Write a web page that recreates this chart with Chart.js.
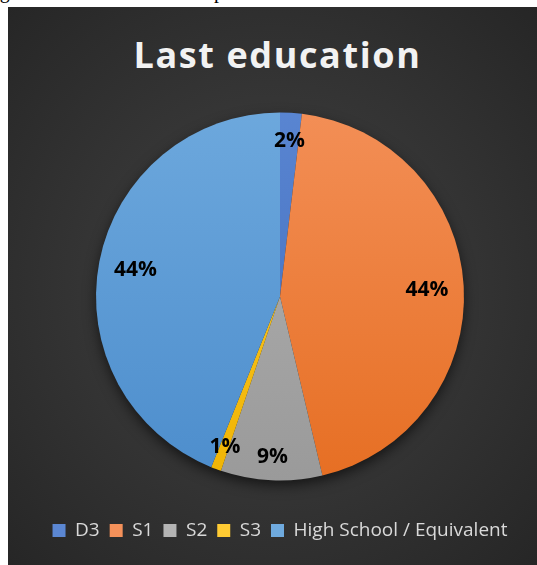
<!DOCTYPE html>
<html>
<head>
<meta charset="utf-8">
<script src="https://cdn.jsdelivr.net/npm/chart.js@4"></script>
<style>
  body { margin: 0; width: 537px; height: 565px; background: #fff; overflow: hidden; position: relative; }
  #caption { position: absolute; left: -17px; top: -20px; white-space: nowrap; font: 20px "Liberation Serif", "Times New Roman", serif; color: #000; }
  #panel { position: absolute; left: 8px; top: 7px; width: 529px; height: 558px;
    background: radial-gradient(ellipse at 50% 50%, #424242 0%, #333 55%, #262626 100%); }
  #title { position: absolute; left: 5px; top: 23px; width: 529px; text-align: center;
    font: bold 36px "Open Sans", sans-serif; letter-spacing: 1.6px; color: #f2f2f2; }
  #chartBox { position: absolute; left: 0; top: 0; width: 529px; height: 558px; }
</style>
</head>
<body>
<div id="caption">Figure 3. Characteristics Respondents Based on Education</div>
<div id="panel">
  <div id="title">Last education</div>
  <div id="chartBox"><canvas id="pie"></canvas></div>
</div>
<script>
const categories = ['D3', 'S1', 'S2', 'S3', 'High School / Equivalent'];
const shares = [1.9, 44.4, 8.9, 0.9, 43.9];
const topColors = ['#5b87d3', '#f4915a', '#b4b4b4', '#ffcb33', '#6faade'];
const bottomColors = ['#3e69b9', '#e56c1f', '#989898', '#efb300', '#4a8bcb'];

function sliceFill(ctx) {
  const chart = ctx.chart;
  const i = ctx.dataIndex;
  const area = chart.chartArea;
  if (!area) return topColors[i];
  const g = chart.ctx.createLinearGradient(0, area.top, 0, area.bottom);
  g.addColorStop(0, topColors[i]);
  g.addColorStop(1, bottomColors[i]);
  return g;
}

// soft shadow under the pie
const pieShadow = {
  id: 'pieShadow',
  beforeDatasetsDraw(chart) {
    const arc = chart.getDatasetMeta(0).data[0];
    if (!arc) return;
    const c = chart.ctx;
    c.save();
    c.shadowColor = 'rgba(0,0,0,0.65)';
    c.shadowBlur = 14;
    c.shadowOffsetY = 5;
    c.fillStyle = '#2a2a2a';
    c.beginPath();
    c.arc(arc.x, arc.y, arc.outerRadius - 1, 0, Math.PI * 2);
    c.fill();
    c.restore();
  }
};

// percentage labels inside the slices
const sliceLabels = {
  id: 'sliceLabels',
  afterDatasetsDraw(chart) {
    const c = chart.ctx;
    const meta = chart.getDatasetMeta(0);
    c.save();
    c.font = 'bold 21px "Open Sans", sans-serif';
    c.fillStyle = '#000';
    c.textAlign = 'center';
    c.textBaseline = 'middle';
    meta.data.forEach((arc, i) => {
      const mid = (arc.startAngle + arc.endAngle) / 2;
      const k = shares[i] < 10 ? 0.86 : 0.8;
      const r = arc.outerRadius * k;
      c.fillText(Math.round(shares[i]) + '%', arc.x + Math.cos(mid) * r, arc.y + Math.sin(mid) * r + 2);
    });
    c.restore();
  }
};

new Chart(document.getElementById('pie'), {
  type: 'pie',
  data: {
    labels: categories,
    datasets: [{
      data: shares,
      backgroundColor: sliceFill,
      borderWidth: 0,
      radius: 184
    }]
  },
  options: {
    responsive: true,
    maintainAspectRatio: false,
    animation: false,
    layout: { padding: { top: 75, bottom: 15, left: 15, right: 0 } },
    plugins: {
      title: { display: false },
      tooltip: { enabled: false },
      legend: {
        position: 'bottom',
        labels: {
          color: '#d9d9d9',
          boxWidth: 13,
          boxHeight: 13,
          padding: 10,
          font: { family: '"Open Sans", sans-serif', size: 19 },
          generateLabels(chart) {
            return categories.map((name, i) => ({
              text: name,
              fillStyle: topColors[i],
              strokeStyle: topColors[i],
              lineWidth: 0,
              fontColor: '#d9d9d9',
              index: i
            }));
          }
        }
      }
    }
  },
  plugins: [pieShadow, sliceLabels]
});
</script>
</body>
</html>
